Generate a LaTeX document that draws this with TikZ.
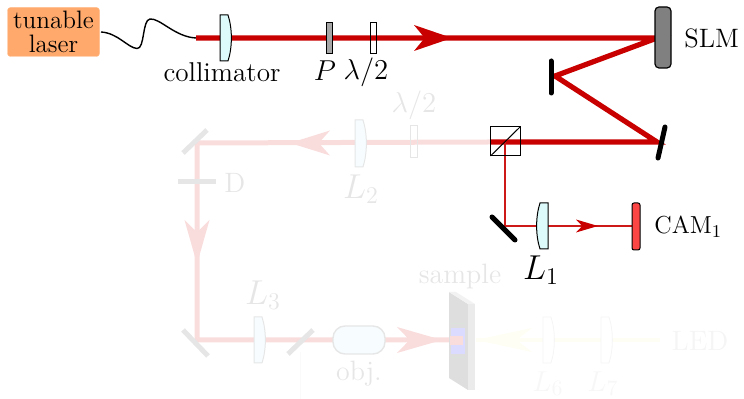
\documentclass[tikz,border=0pt]{standalone}
\usetikzlibrary{calc}
\definecolor{beamred}{HTML}{C80000}
\definecolor{beamfade}{HTML}{F9DCDC}
\definecolor{fadeline}{HTML}{E6E6E6}
\definecolor{fadetext}{HTML}{E6E6E6}
\definecolor{ledfade}{HTML}{FEFEF4}
\definecolor{laserbox}{HTML}{FFA96C}
\definecolor{lenscyan}{HTML}{DDFBFB}
\definecolor{camred}{HTML}{FB4545}
\newcommand{\headat}[6]{% x,y,angle,length,halfwidth,colour
  \fill[#6,shift={(#1,#2)},rotate=#3] (0,0) -- (-#4,-#5) -- (-0.72*#4,0) -- (-#4,#5) -- cycle;}
\newcommand{\lensR}[4]{% x,ytop,ybottom,style : flat left, bulge right
  \draw[#4] (#1,#2) -- (#1,#3) -- (#1+8,#3)
    .. controls (#1+12.5,{#3-0.3*(#3-#2)}) and (#1+12.5,{#2+0.3*(#3-#2)}) .. (#1+8,#2) -- cycle;}
\newcommand{\lensL}[4]{% x,ytop,ybottom,style : flat right, bulge left
  \draw[#4] (#1,#2) -- (#1,#3) -- (#1-8,#3)
    .. controls (#1-12.5,{#3-0.3*(#3-#2)}) and (#1-12.5,{#2+0.3*(#3-#2)}) .. (#1-8,#2) -- cycle;}
\tikzset{
  x=0.5pt,y=-0.5pt,
  lbl/.style={font=\fontsize{13.6}{15}\selectfont,inner sep=0pt,text=black},
  fadelbl/.style={font=\fontsize{14}{15}\selectfont,inner sep=0pt,text=fadetext},
  biglbl/.style={font=\fontsize{16.5}{18}\selectfont,inner sep=0pt},
  mathlbl/.style={font=\fontsize{15.5}{18}\selectfont,inner sep=0pt},
  beam/.style={line width=2.6pt,beamred,line join=miter},
  thinbeam/.style={line width=0.75pt,beamred!90!white},
  fadebeam/.style={line width=2.5pt,beamfade},
  ledbeam/.style={line width=1.6pt,ledfade},
  mirror/.style={line width=2.5pt,black,line cap=round},
  fademirror/.style={line width=2.5pt,fadeline},
  lensact/.style={draw=black,line width=0.5pt,fill=lenscyan},
  lensfade/.style={draw=fadeline,line width=0.5pt,fill=white!97!cyan},
  lensled/.style={draw=black!4,line width=0.4pt,fill=white},
  plate/.style={draw=black,line width=0.5pt},
  fadeplate/.style={draw=fadeline,line width=0.5pt},
}
\begin{document}
\begin{tikzpicture}
\useasboundingbox (0,0) rectangle (744,399);
% coordinates
\coordinate (fibA) at (101,32);
\coordinate (fibB) at (196,38);
\coordinate (slmP) at (657,38);
\coordinate (m1P) at (555,76);
\coordinate (m2P) at (657,142);
\coordinate (bsP) at (505,142);
\coordinate (bsL) at (490,142);
\coordinate (tl) at (197,143);
\coordinate (bl) at (197,340);
\coordinate (samP) at (450,340);
\coordinate (m3P) at (505,226);
\coordinate (camP) at (633,226);
\coordinate (ledP) at (660,340);
\coordinate (samR) at (476,340);
% faded part
\draw[black!2,line width=0.4pt] (300,352) -- (300,399);
\draw[ledbeam] (samR) -- (ledP);
\headat{476}{340}{180}{56}{12}{ledfade}
\lensR{543}{317}{363}{lensled}
\lensR{601}{317}{363}{lensled}
\node[font=\fontsize{15}{17}\selectfont,inner sep=0pt,text=black!3] (lsix) at (548,384) {$L_6$};
\node[font=\fontsize{15}{17}\selectfont,inner sep=0pt,text=black!3] (lseven) at (603,384) {$L_7$};
\node[font=\fontsize{14}{15}\selectfont,inner sep=0pt,text=black!4] (led) at (700,341) {LED};
\draw[fadebeam] (bsL) -- (tl) -- (bl) -- (samP);
\headat{290}{143}{180}{40}{12.5}{beamfade}
\headat{197}{264}{-90}{44}{12.5}{beamfade}
\headat{442}{340}{0}{45}{13}{beamfade}
\draw[fademirror] (183,153) -- (207,130);
\draw[fademirror] (178,182) -- (216,182);
\node[fadelbl,anchor=west] (dlab) at (224,183) {D};
\lensR{355}{120}{167}{lensfade}
\node[fadelbl] (ltwo) at (361,189) {\fontsize{16.5}{18}\selectfont$L_2$};
\draw[fadeplate] (410,126) rectangle (417,158);
\node[fadelbl] (ha) at (414,105) {\fontsize{15.5}{18}\selectfont$\lambda/2$};
\draw[fademirror] (183,330) -- (208,356);
\lensR{254}{317}{363}{lensfade}
\node[fadelbl] (lthree) at (263,295) {\fontsize{16.5}{18}\selectfont$L_3$};
\draw[fademirror] (288,354) -- (313,330);
\node[draw=fadeline,line width=0.7pt,fill=white!97!cyan,rounded corners=6pt,minimum width=26pt,minimum height=14pt,inner sep=0pt] (obj) at (359,340) {};
\node[fadelbl] (objlab) at (359,374) {obj.};
\node[fadelbl] (samplab) at (460,277) {sample};
% sample
\fill[black!13] (449,292) -- (468,304) -- (468,390) -- (449,378) -- cycle;
\fill[black!8] (468,304) -- (475,304) -- (475,390) -- (468,390) -- cycle;
\fill[black!5] (449,292) -- (456,292) -- (475,304) -- (468,304) -- cycle;
\fill[blue!14] (451,328) rectangle (465,354);
\fill[green!20!black!14] (451,323) rectangle (465,324.5);
\fill[green!20!black!14] (451,357) rectangle (465,358.5);
\fill[beamfade] (450,336) rectangle (463,345);
% active part
\node[draw=laserbox!80!white,fill=laserbox,rounded corners=1.5pt,minimum width=46pt,minimum height=24.5pt,inner sep=0pt,align=center,line width=0.2pt,font=\fontsize{12.6}{12}\selectfont] (laser) at (53.5,32) {tunable\\laser};
\draw[black,line width=0.7pt] (fibA) .. controls (118,33) and (128,48) .. (137,48.5)
  .. controls (145,49) and (142,20) .. (150,19) .. controls (160,18) and (175,37) .. (fibB);
\draw[beam] (fibB) -- (slmP) -- (m1P) -- (m2P) -- (bsL);
\headat{452}{38}{0}{38}{13}{beamred}
\draw[thinbeam] (bsP) -- (m3P) -- (camP);
\headat{598}{226}{0}{22}{6.5}{beamred}
\lensR{220}{15}{61}{lensact}
\draw[plate,fill=black!35] (326,23) rectangle (332,54);
\draw[plate] (370,23) rectangle (376,54);
\node[lbl] (coll) at (222,72) {collimator};
\node[mathlbl] (plab) at (325,71) {$P$};
\node[mathlbl] (hb) at (366,72) {$\lambda/2$};
\node[draw=black,line width=0.6pt,fill=black!50,rounded corners=2pt,minimum width=8pt,minimum height=30.5pt,inner sep=0pt] (slm) at (663,37.5) {};
\node[lbl,font=\fontsize{13.3}{15}\selectfont,anchor=west] (slmlab) at (684,38) {SLM};
\draw[mirror] (551,61) -- (551,93);
\draw[mirror] (665,127) -- (658,158);
\draw[black,line width=0.5pt] (490.5,127) rectangle (520,156);
\draw[black,line width=0.5pt] (490.5,156) -- (520,127);
\draw[mirror] (492,217) -- (515,240);
\lensL{548}{203}{249}{lensact}
\node[biglbl] (lone) at (541,270) {$L_1$};
\node[draw=black,line width=0.5pt,fill=camred,rounded corners=1pt,minimum width=4pt,minimum height=23.5pt,inner sep=0pt] (cam) at (636,226.5) {};
\node[inner sep=0pt,anchor=west,font=\fontsize{12.3}{14}\selectfont] (camlab) at (654,227) {CAM$_1$};
\end{tikzpicture}
\end{document}
